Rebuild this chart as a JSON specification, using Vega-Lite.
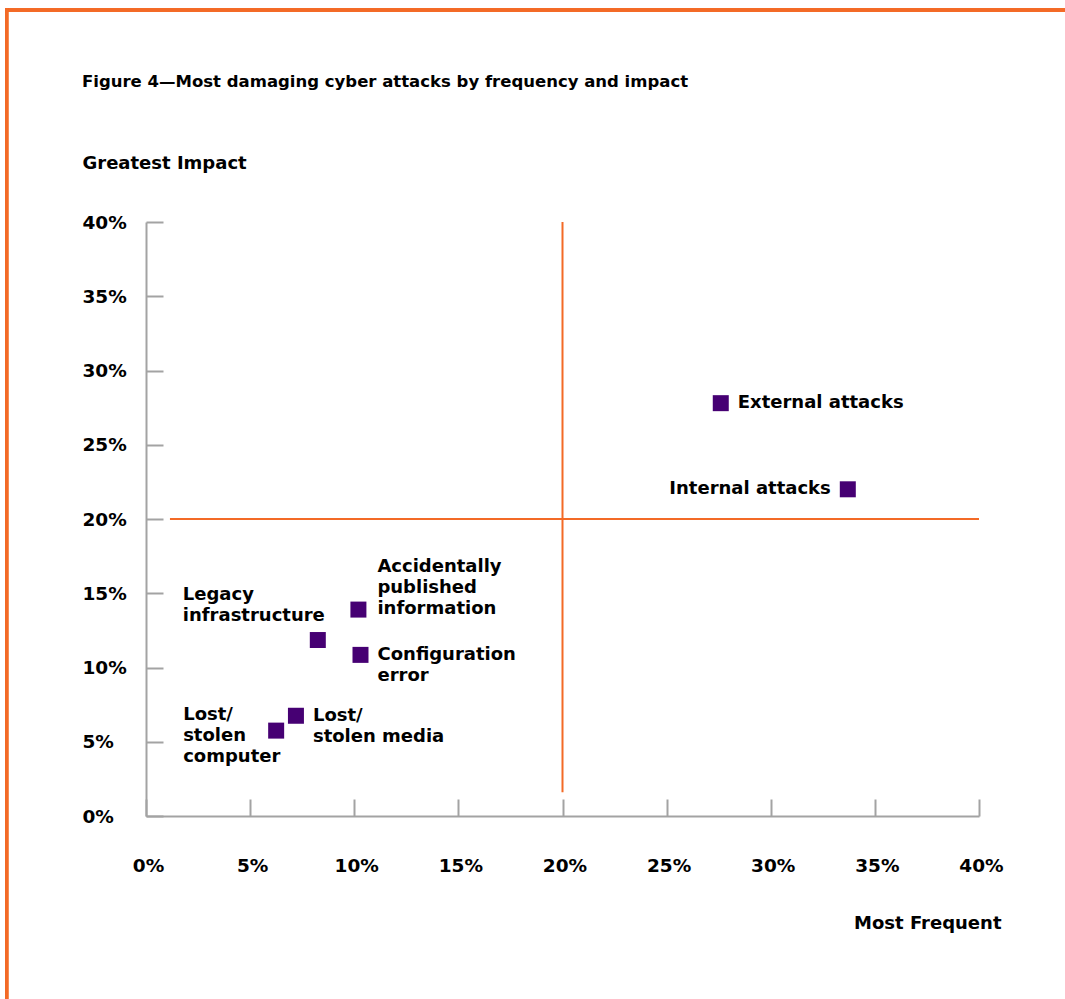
{
  "$schema": "https://vega.github.io/schema/vega-lite/v6.json",
  "width": 833,
  "height": 594,
  "autosize": {"type": "none"},
  "padding": {"left": 146, "top": 222, "right": 86, "bottom": 183},
  "background": "white",
  "config": {"view": {"stroke": null}, "font": "DejaVu Sans"},
  "title": {
    "text": "Figure 4—Most damaging cyber attacks by frequency and impact",
    "anchor": "start",
    "frame": "group",
    "dx": -64,
    "offset": -97,
    "baseline": "alphabetic",
    "fontSize": 16.5,
    "fontWeight": "bold",
    "font": "DejaVu Sans",
    "color": "#000000"
  },
  "datasets": {
    "points": [
      {"attack": "External attacks", "label": "External attacks", "frequency": 27.6, "impact": 27.8},
      {"attack": "Internal attacks", "label": "Internal attacks", "frequency": 33.7, "impact": 22.0},
      {"attack": "Accidentally published information", "label": "Accidentally\npublished\ninformation", "frequency": 10.2, "impact": 13.9},
      {"attack": "Configuration error", "label": "Configuration\nerror", "frequency": 10.3, "impact": 10.85},
      {"attack": "Legacy infrastructure", "label": "Legacy\ninfrastructure", "frequency": 8.25, "impact": 11.85},
      {"attack": "Lost/stolen media", "label": "Lost/\nstolen media", "frequency": 7.2, "impact": 6.75},
      {"attack": "Lost/stolen computer", "label": "Lost/\nstolen\ncomputer", "frequency": 6.25, "impact": 5.75}
    ],
    "vline": [{"x": 20, "y": 1.6, "y2": 40}],
    "hline": [{"y": 20, "x": 1.15, "x2": 40}]
  },
  "layer": [
    {
      "data": {"name": "points"},
      "mark": {"type": "point", "shape": "square", "filled": true, "size": 256, "color": "#460073", "opacity": 1},
      "encoding": {
        "x": {
          "field": "frequency", "type": "quantitative",
          "scale": {"domain": [0, 40]},
          "axis": {
            "title": "Most Frequent",
            "values": [0, 5, 10, 15, 20, 25, 30, 35, 40],
            "labelExpr": "datum.value + '%'",
            "grid": false,
            "domainColor": "#A3A3A3", "domainWidth": 2,
            "tickColor": "#A3A3A3", "tickWidth": 2, "tickSize": -17,
            "labelPadding": 66, "labelBaseline": "middle", "labelAlign": "center", "labelOffset": 2,
            "labelFont": "DejaVu Sans", "labelFontSize": 18.5, "labelFontWeight": "bold", "labelColor": "#000000",
            "labelFlush": false, "labelOverlap": false,
            "titleFont": "DejaVu Sans", "titleFontSize": 18, "titleFontWeight": "bold", "titleColor": "#000000",
            "titleAlign": "right", "titleBaseline": "middle", "titleX": 855, "titleY": 107
          }
        },
        "y": {
          "field": "impact", "type": "quantitative",
          "scale": {"domain": [0, 40]},
          "axis": {
            "title": "Greatest Impact",
            "values": [0, 5, 10, 15, 20, 25, 30, 35, 40],
            "labelExpr": "datum.value + '%'",
            "grid": false,
            "domainColor": "#A3A3A3", "domainWidth": 2,
            "tickColor": "#A3A3A3", "tickWidth": 2, "tickSize": -17,
            "labelPadding": 81, "labelAlign": "left", "labelBaseline": "middle",
            "labelFont": "DejaVu Sans", "labelFontSize": 18.5, "labelFontWeight": "bold", "labelColor": "#000000",
            "labelFlush": false, "labelOverlap": false,
            "titleFont": "DejaVu Sans", "titleFontSize": 18, "titleFontWeight": "bold", "titleColor": "#000000",
            "titleAngle": 0, "titleAlign": "left", "titleBaseline": "middle", "titleX": -64, "titleY": -59
          }
        }
      }
    },
    {
      "data": {"name": "points"},
      "mark": {"type": "rule", "color": "#F36A26", "strokeWidth": 3},
      "encoding": {
        "x": {"datum": -6.76, "type": "quantitative", "scale": {"domain": [0, 40]}},
        "x2": {"datum": 46},
        "y": {"datum": 54.28, "type": "quantitative", "scale": {"domain": [0, 40]}}
      }
    },
    {
      "data": {"name": "points"},
      "mark": {"type": "rule", "color": "#F36A26", "strokeWidth": 3},
      "encoding": {
        "x": {"datum": -6.69, "type": "quantitative", "scale": {"domain": [0, 40]}},
        "y": {"datum": 54.38, "type": "quantitative", "scale": {"domain": [0, 40]}},
        "y2": {"datum": -14}
      }
    },
    {
      "data": {"name": "vline"},
      "mark": {"type": "rule", "color": "#F36A26", "strokeWidth": 2},
      "encoding": {
        "x": {"field": "x", "type": "quantitative", "scale": {"domain": [0, 40]}},
        "y": {"field": "y", "type": "quantitative", "scale": {"domain": [0, 40]}},
        "y2": {"field": "y2"}
      }
    },
    {
      "data": {"name": "hline"},
      "mark": {"type": "rule", "color": "#F36A26", "strokeWidth": 2},
      "encoding": {
        "x": {"field": "x", "type": "quantitative", "scale": {"domain": [0, 40]}},
        "x2": {"field": "x2"},
        "y": {"field": "y", "type": "quantitative", "scale": {"domain": [0, 40]}}
      }
    },
    {
      "data": {"name": "points"},
      "transform": [{"filter": "datum.attack === 'External attacks'"}],
      "mark": {"type": "text", "align": "left", "baseline": "middle", "dx": 17, "dy": 0, "font": "DejaVu Sans", "fontSize": 18, "fontWeight": "bold", "color": "#000000", "lineBreak": "\n", "lineHeight": 21},
      "encoding": {
        "x": {"field": "frequency", "type": "quantitative", "scale": {"domain": [0, 40]}},
        "y": {"field": "impact", "type": "quantitative", "scale": {"domain": [0, 40]}},
        "text": {"field": "label"}
      }
    },
    {
      "data": {"name": "points"},
      "transform": [{"filter": "datum.attack === 'Internal attacks'"}],
      "mark": {"type": "text", "align": "right", "baseline": "middle", "dx": -17, "dy": 0, "font": "DejaVu Sans", "fontSize": 18, "fontWeight": "bold", "color": "#000000", "lineBreak": "\n", "lineHeight": 21},
      "encoding": {
        "x": {"field": "frequency", "type": "quantitative", "scale": {"domain": [0, 40]}},
        "y": {"field": "impact", "type": "quantitative", "scale": {"domain": [0, 40]}},
        "text": {"field": "label"}
      }
    },
    {
      "data": {"name": "points"},
      "transform": [{"filter": "datum.attack === 'Accidentally published information'"}],
      "mark": {"type": "text", "align": "left", "baseline": "middle", "dx": 19, "dy": -43, "font": "DejaVu Sans", "fontSize": 18, "fontWeight": "bold", "color": "#000000", "lineBreak": "\n", "lineHeight": 21},
      "encoding": {
        "x": {"field": "frequency", "type": "quantitative", "scale": {"domain": [0, 40]}},
        "y": {"field": "impact", "type": "quantitative", "scale": {"domain": [0, 40]}},
        "text": {"field": "label"}
      }
    },
    {
      "data": {"name": "points"},
      "transform": [{"filter": "datum.attack === 'Configuration error' || datum.attack === 'Lost/stolen media'"}],
      "mark": {"type": "text", "align": "left", "baseline": "middle", "dx": 17, "dy": 0, "font": "DejaVu Sans", "fontSize": 18, "fontWeight": "bold", "color": "#000000", "lineBreak": "\n", "lineHeight": 21},
      "encoding": {
        "x": {"field": "frequency", "type": "quantitative", "scale": {"domain": [0, 40]}},
        "y": {"field": "impact", "type": "quantitative", "scale": {"domain": [0, 40]}},
        "text": {"field": "label"}
      }
    },
    {
      "data": {"name": "points"},
      "transform": [{"filter": "datum.attack === 'Legacy infrastructure'"}],
      "mark": {"type": "text", "align": "left", "baseline": "middle", "dx": -135, "dy": -45, "font": "DejaVu Sans", "fontSize": 18, "fontWeight": "bold", "color": "#000000", "lineBreak": "\n", "lineHeight": 21},
      "encoding": {
        "x": {"field": "frequency", "type": "quantitative", "scale": {"domain": [0, 40]}},
        "y": {"field": "impact", "type": "quantitative", "scale": {"domain": [0, 40]}},
        "text": {"field": "label"}
      }
    },
    {
      "data": {"name": "points"},
      "transform": [{"filter": "datum.attack === 'Lost/stolen computer'"}],
      "mark": {"type": "text", "align": "left", "baseline": "middle", "dx": -93, "dy": -16, "font": "DejaVu Sans", "fontSize": 18, "fontWeight": "bold", "color": "#000000", "lineBreak": "\n", "lineHeight": 21},
      "encoding": {
        "x": {"field": "frequency", "type": "quantitative", "scale": {"domain": [0, 40]}},
        "y": {"field": "impact", "type": "quantitative", "scale": {"domain": [0, 40]}},
        "text": {"field": "label"}
      }
    }
  ]
}
